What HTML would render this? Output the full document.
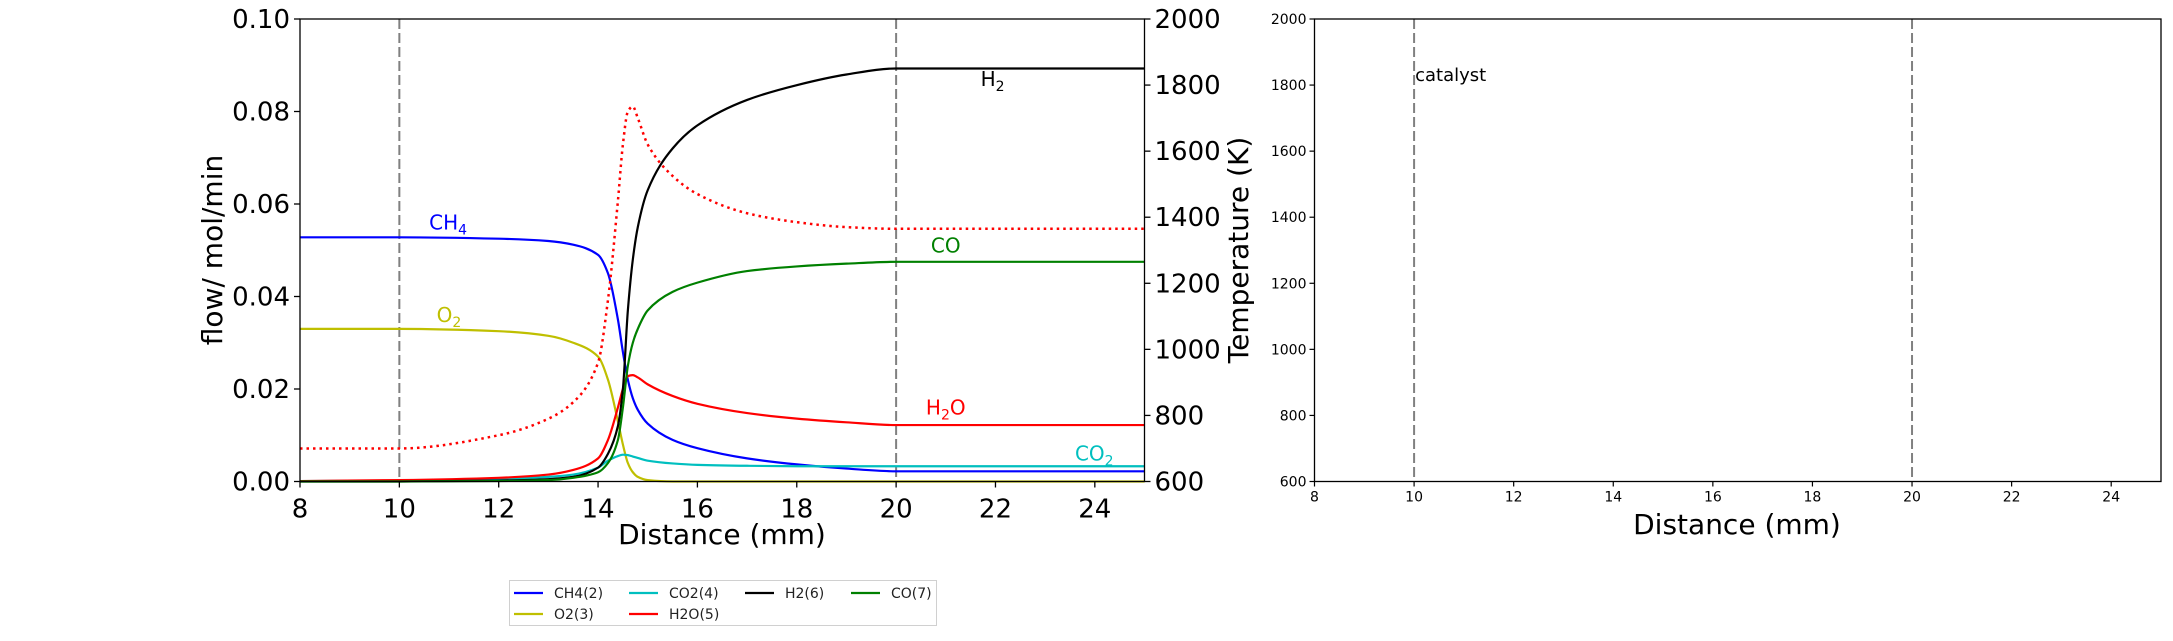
<!DOCTYPE html>
<html><head><meta charset="utf-8"><style>
body{margin:0;background:#fff;}
svg text{font-family:"DejaVu Sans","Liberation Sans",sans-serif;}
</style></head><body>
<svg id="fig" width="2173" height="636" viewBox="0 0 2173 636" xmlns="http://www.w3.org/2000/svg">
<g id="left"></g>
<g id="right"></g>
</svg>
<script>
const xs   = [8,10,12,13,13.5,14,14.2,14.4,14.5,14.6,14.7,14.8,15,15.5,16,17,18,19,20,22,25];
const ch4  = [0.0528,0.0528,0.0525,0.052,0.0512,0.049,0.045,0.035,0.028,0.022,0.018,0.0155,0.0125,0.009,0.0072,0.005,0.0037,0.0028,0.0022,0.0022,0.0022];
const o2   = [0.033,0.033,0.0325,0.0315,0.030,0.027,0.022,0.013,0.008,0.004,0.002,0.001,0.0003,0,0,0,0,0,0,0,0];
const co2  = [0.0001,0.0002,0.0005,0.001,0.0015,0.003,0.0045,0.0055,0.0058,0.0057,0.0054,0.0051,0.0045,0.0039,0.0036,0.0034,0.0033,0.0033,0.0033,0.0033,0.0033];
const h2o  = [0.0001,0.0003,0.0008,0.0015,0.0025,0.005,0.009,0.016,0.020,0.0228,0.023,0.0225,0.021,0.0185,0.0168,0.0148,0.0136,0.0128,0.0122,0.0122,0.0122];
const h2   = [0,0,0.0002,0.0005,0.001,0.003,0.006,0.012,0.02,0.037,0.048,0.055,0.063,0.072,0.077,0.0825,0.0857,0.088,0.0893,0.0893,0.0893];
const co   = [0,0,0.0001,0.0003,0.0008,0.002,0.004,0.009,0.016,0.025,0.030,0.033,0.037,0.041,0.043,0.0455,0.0465,0.0471,0.0475,0.0475,0.0475];
const temp = [700,700,740,790,840,960,1150,1450,1620,1720,1735,1700,1620,1525,1470,1412,1385,1370,1365,1365,1365];
const xTicks = [8,10,12,14,16,18,20,22,24];
const yTicks = [0,0.02,0.04,0.06,0.08,0.10];
const yTickLabels = ["0.00","0.02","0.04","0.06","0.08","0.10"];
const tTicks = [600,800,1000,1200,1400,1600,1800,2000];
const vlines = [10,20];
const NS="http://www.w3.org/2000/svg";
function mk(p,tag,attrs,txt){const e=document.createElementNS(NS,tag);for(const k in attrs)e.setAttribute(k,attrs[k]);if(txt!==undefined)e.textContent=txt;p.appendChild(e);return e;}
function path(pts){const n=pts.length,d=[],m=new Array(n);
 for(let i=0;i<n-1;i++)d.push((pts[i+1][1]-pts[i][1])/(pts[i+1][0]-pts[i][0]));
 m[0]=d[0];m[n-1]=d[n-2];
 for(let i=1;i<n-1;i++){if(d[i-1]*d[i]<=0)m[i]=0;else{const h0=pts[i][0]-pts[i-1][0],h1=pts[i+1][0]-pts[i][0];const w1=2*h1+h0,w2=h1+2*h0;m[i]=(w1+w2)/(w1/d[i-1]+w2/d[i]);}}
 let s="M"+pts[0][0].toFixed(2)+","+pts[0][1].toFixed(2);
 for(let i=0;i<n-1;i++){const h=(pts[i+1][0]-pts[i][0])/3;
 s+=" C"+(pts[i][0]+h).toFixed(2)+","+(pts[i][1]+h*m[i]).toFixed(2)+" "+(pts[i+1][0]-h).toFixed(2)+","+(pts[i+1][1]-h*m[i+1]).toFixed(2)+" "+pts[i+1][0].toFixed(2)+","+pts[i+1][1].toFixed(2);}
 return s;}
const L={x0:300,x1:1144.5,y0:481.5,y1:19};
const lx=v=>L.x0+(v-8)/(25-8)*(L.x1-L.x0);
const ly=v=>L.y0-(v-0)/(0.1)*(L.y0-L.y1);
const ty=v=>L.y0-(v-600)/1400*(L.y0-L.y1);
const g=document.getElementById('left');
vlines.forEach(v=>{const l=mk(g,'line',{x1:lx(v),x2:lx(v),y1:L.y1,y2:L.y0,stroke:'#808080','stroke-width':2,'stroke-dasharray':'10,4'});

});
const series=[[ch4,'#0000ff','ch4-line'],[o2,'#bfbf00','o2-line'],[co2,'#00bfbf','co2-line'],[h2o,'#ff0000','h2o-line'],[h2,'#000000','h2-line'],[co,'#008000','co-line']];
series.forEach(s=>{const p=mk(g,'path',{d:path(xs.map((x,i)=>[lx(x),ly(s[0][i])])),fill:'none',stroke:s[1],'stroke-width':2.2});

});
const tp=mk(g,'path',{d:path(xs.map((x,i)=>[lx(x),ty(temp[i])])),fill:'none',stroke:'#ff0000','stroke-width':2.5,'stroke-dasharray':'2.5,4'});


mk(g,'rect',{x:L.x0,y:L.y1,width:L.x1-L.x0,height:L.y0-L.y1,fill:'none',stroke:'#000','stroke-width':1.3});
xTicks.forEach(v=>{mk(g,'line',{x1:lx(v),x2:lx(v),y1:L.y0,y2:L.y0+6,stroke:'#000','stroke-width':1.3});
const t=mk(g,'text',{x:lx(v),y:L.y0+36,'font-size':26,'text-anchor':'middle'},String(v));

});
yTicks.forEach((v,i)=>{mk(g,'line',{x1:L.x0-6,x2:L.x0,y1:ly(v),y2:ly(v),stroke:'#000','stroke-width':1.3});
const t=mk(g,'text',{x:L.x0-10,y:ly(v)+9,'font-size':26,'text-anchor':'end'},yTickLabels[i]);

});
tTicks.forEach(v=>{mk(g,'line',{x1:L.x1,x2:L.x1+6,y1:ty(v),y2:ty(v),stroke:'#000','stroke-width':1.3});
const t=mk(g,'text',{x:L.x1+10,y:ty(v)+9,'font-size':26,'text-anchor':'start'},String(v));

});
</script>
<script>
const g2=document.getElementById('left');
mk(g2,'text',{x:722,y:544,'font-size':28,'text-anchor':'middle',},'Distance (mm)');
mk(g2,'text',{x:0,y:0,'font-size':28,'text-anchor':'middle',transform:'translate(222,250) rotate(-90)',},'flow/ mol/min');
mk(g2,'text',{x:0,y:0,'font-size':28,'text-anchor':'middle',transform:'translate(1248,250) rotate(-90)',},'Temperature (K)');
function lab(x,y,main,sub,tail,col,name){const t=mk(g2,'text',{x:lx(x),y:ly(y),'font-size':20,fill:col,});
 const a=document.createElementNS(NS,'tspan');a.textContent=main;t.appendChild(a);
 if(sub){const b=document.createElementNS(NS,'tspan');b.setAttribute('font-size',14);b.setAttribute('dy',5);b.textContent=sub;t.appendChild(b);}
 if(tail){const c=document.createElementNS(NS,'tspan');c.setAttribute('dy',-5);c.textContent=tail;t.appendChild(c);}}
lab(10.6,0.0545,'CH','4','','#0000ff','ch4-label');
lab(10.75,0.0345,'O','2','','#bfbf00','o2-label');
lab(21.7,0.0855,'H','2','','#000000','h2-label');
lab(20.7,0.0495,'CO','','','#008000','co-label');
lab(20.6,0.0145,'H','2','O','#ff0000','h2o-label');
lab(23.6,0.0045,'CO','2','','#00bfbf','co2-label');
const lg=mk(g2,'g',{});
mk(lg,'rect',{x:509.5,y:580.5,width:427,height:45,fill:'#fff',stroke:'#d0d0d0','stroke-width':1});
const legNames=['CH4(2)','O2(3)','CO2(4)','H2O(5)','H2(6)','CO(7)'];
const legCols=['#0000ff','#bfbf00','#00bfbf','#ff0000','#000000','#008000'];
const legX=[514,514,629,629,745,851],legY=[593,614,593,614,593,593];
legNames.forEach((n,i)=>{const e=mk(lg,'g',{});


mk(e,'line',{x1:legX[i],x2:legX[i]+29,y1:legY[i],y2:legY[i],stroke:legCols[i],'stroke-width':2.2});
mk(e,'text',{x:legX[i]+40,y:legY[i]+5,'font-size':14,fill:'#222'},n);});
const R={x0:1314.5,x1:2161,y0:481.5,y1:19};
const rx=v=>R.x0+(v-8)/17*(R.x1-R.x0);
const ry=v=>R.y0-(v-600)/1400*(R.y0-R.y1);
const gr=document.getElementById('right');
vlines.forEach(v=>{const l=mk(gr,'line',{x1:rx(v),x2:rx(v),y1:R.y1,y2:R.y0,stroke:'#808080','stroke-width':2,'stroke-dasharray':'10,4'});

});
mk(gr,'rect',{x:R.x0,y:R.y1,width:R.x1-R.x0,height:R.y0-R.y1,fill:'none',stroke:'#000','stroke-width':1.3});
xTicks.forEach(v=>{mk(gr,'line',{x1:rx(v),x2:rx(v),y1:R.y0,y2:R.y0+5,stroke:'#000','stroke-width':1.2});
const t=mk(gr,'text',{x:rx(v),y:R.y0+20,'font-size':14,'text-anchor':'middle'},String(v));

});
tTicks.forEach(v=>{mk(gr,'line',{x1:R.x0-5,x2:R.x0,y1:ry(v),y2:ry(v),stroke:'#000','stroke-width':1.2});
const t=mk(gr,'text',{x:R.x0-8,y:ry(v)+5,'font-size':14,'text-anchor':'end'},String(v));

});
mk(gr,'text',{x:rx(10)+1,y:ry(1830)+6,'font-size':18,},'catalyst');
mk(gr,'text',{x:1737,y:534,'font-size':28,'text-anchor':'middle',},'Distance (mm)');
</script>
</body></html>
